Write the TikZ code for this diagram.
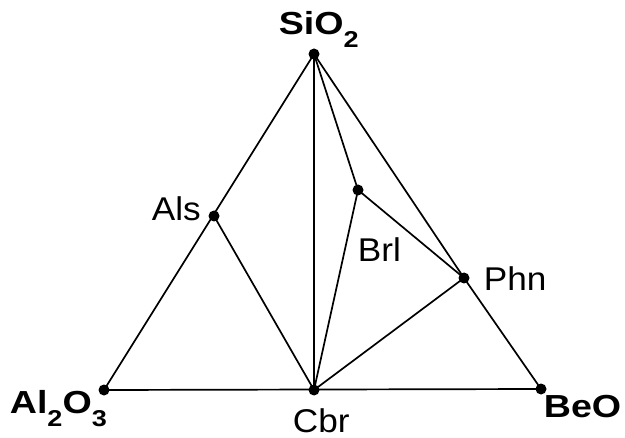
\documentclass[tikz,border=0pt]{standalone}
\usepackage{fontspec}
\setmainfont[FakeStretch=1.07]{Liberation Sans}
\newfontfamily\vfont[FakeStretch=1.18]{Liberation Sans}
\newcommand{\mysub}[1]{\raisebox{-13bp}{\fontsize{23}{23}\selectfont #1}}
\begin{document}
\begin{tikzpicture}[x=1bp,y=-1bp,line width=1.7bp,
  dot/.style={circle,fill,inner sep=0pt,minimum size=11bp},
  lbl/.style={font=\fontsize{33}{33}\selectfont,inner sep=0pt,anchor=base west},
  vlbl/.style={font=\vfont\bfseries\fontsize{32}{32}\selectfont,inner sep=0pt,anchor=base west}]
\useasboundingbox[fill=white] (0,0) rectangle (625,438);
\node[dot] (S) at (314,54) {};
\node[dot] (A) at (104,390) {};
\node[dot] (B) at (541,389) {};
\node[dot] (C) at (314,390) {};
\node[dot] (Als) at (214,216) {};
\node[dot] (Brl) at (358,190) {};
\node[dot] (Phn) at (464,278) {};
\draw (S.center) -- (A.center) -- (B.center);
\draw (S.center) -- (Phn.center) -- (B.center);
\draw (S.center) -- (C.center);
\draw (Als.center) -- (C.center);
\draw (S.center) -- (Brl.center) -- (C.center);
\draw (Brl.center) -- (Phn.center) -- (C.center);
\node[vlbl] (tS) at (278,35) {SiO\mysub{2}};
\node[vlbl] (tA) at (9,413) {Al\mysub{2}O\mysub{3}};
\node[vlbl] (tB) at (543,417) {BeO};
\node[lbl] (tC) at (292,432) {Cbr};
\node[lbl] (tAls) at (151,221) {Als};
\node[lbl] (tBrl) at (357,262) {Brl};
\node[lbl] (tPhn) at (483,291) {Phn};
\end{tikzpicture}
\end{document}
